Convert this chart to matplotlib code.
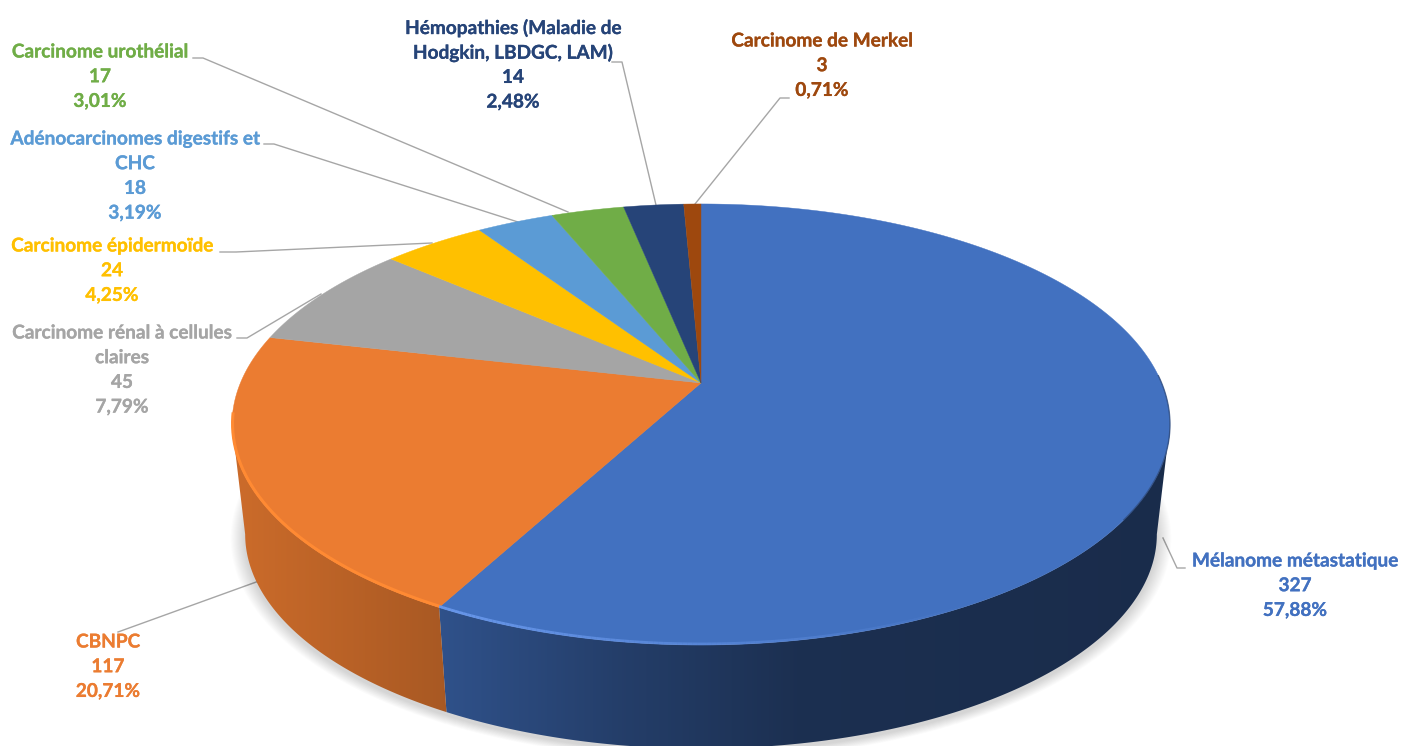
import numpy as np
import matplotlib
matplotlib.use("Agg")
import matplotlib.pyplot as plt
import matplotlib.patheffects as pe
from matplotlib.collections import LineCollection
from matplotlib.patches import Polygon

plt.rcParams['font.family'] = ['Lato', 'DejaVu Sans']

# Data
names = ["Mélanome métastatique", "CBNPC", "Carcinome rénal à cellules\nclaires",
         "Carcinome épidermoïde", "Adénocarcinomes digestifs et\nCHC",
         "Carcinome urothélial", "Hémopathies (Maladie de\nHodgkin, LBDGC, LAM)",
         "Carcinome de Merkel"]
counts = [327, 117, 45, 24, 18, 17, 14, 3]
percents = [57.88, 20.71, 7.79, 4.25, 3.19, 3.01, 2.48, 0.71]
colors = ["#4271C0", "#EB7C31", "#A5A5A5", "#FFC000", "#5B9BD5", "#70AD47", "#264478", "#9E480E"]
text_colors = colors[:6] + ["#264478", "#9E480E"]

# Label centre x, first line y
label_pos = [(1295, 561), (108, 642), (122, 333), (112, 246), (135, 139), (100, 52), (513, 28), (822, 41)]
# Leader lines
leaders = [
    [(1163, 538), (1177, 568), (1185, 568)],
    [(118, 632), (259, 581)],
    [(237, 338), (247, 338), (321, 294)],
    [(220, 252), (236, 252), (432, 243)],
    [(264, 144), (274, 144), (518, 222)],
    [(193, 58), (203, 58), (568, 212)],
    [(612, 62), (622, 62), (656, 205)],
    [(789, 98), (780, 98), (695, 204)],
]

# Perspective of the disc
CX, CY = 701, 383
A, B, K = 460.6, 212.7, 0.188
DEPTH, SHRINK = 111, 0.972
W, H = 1403, 746


def project(theta, scale=1.0, dy=0.0):
    """theta = clockwise angle from the top, gives pixel position on the rim"""
    x, y = np.sin(theta), np.cos(theta)
    w = 1 + K * y
    return CX + scale * A * x / w, CY + dy - scale * B * y / w


def side_shade(x):
    return np.interp(x, [245, 441, 620, 800, 1170], [0.86, 0.72, 0.55, 0.42, 0.39])


fig = plt.figure(figsize=(14.03, 7.46), dpi=100)
ax = fig.add_axes([0, 0, 1, 1])

for pts in leaders:
    xs, ys = zip(*pts)
    ax.plot(xs, ys, color="#A6A6A6", lw=1.0, zorder=1)

# soft shadow under the disc
t = np.linspace(0, 2 * np.pi, 400)
for i in range(14):
    px, py = project(t, SHRINK + 0.0022 * (14 - i), DEPTH + 3)
    ax.add_patch(Polygon(np.c_[px, py], fc="black", ec="none", alpha=0.012, zorder=2))

edges = np.radians(np.cumsum([0] + percents) / sum(percents) * 360)

# only the rim between the two x extremes shows a wall
vis_start = np.arccos(-K)
vis_end = 2 * np.pi - vis_start

# side wall, gradient image clipped to each slice's wall
grad_x = np.arange(W) + 0.5
for start, end, col in zip(edges[:-1], edges[1:], colors):
    a, b = max(start, vis_start), min(end, vis_end)
    if a >= b:
        continue
    th = np.linspace(a, b, 200)
    x1, y1 = project(th)
    x2, y2 = project(th[::-1], SHRINK, DEPTH)
    wall = Polygon(np.c_[np.r_[x1, x2], np.r_[y1, y2]], closed=True, transform=ax.transData)
    rgb = np.array(matplotlib.colors.to_rgb(col))[None, None, :] * side_shade(grad_x)[None, :, None]
    im = ax.imshow(rgb, extent=(0, W, H, 0), aspect="auto", zorder=3, interpolation="bilinear")
    im.set_clip_path(wall)

ax.set_xlim(0, W)
ax.set_ylim(H, 0)
ax.axis("off")

# top of the disc
for start, end, col in zip(edges[:-1], edges[1:], colors):
    th = np.linspace(start, end, max(int((end - start) * 120), 3))
    x1, y1 = project(th)
    verts = np.r_[[(CX, CY)], np.c_[x1, y1]]
    ax.add_patch(Polygon(verts, fc=col, ec=col, lw=0.3, zorder=4))

# rim highlights
px, py = project(np.linspace(edges[1], np.radians(262), 200))
ax.plot(px + 0.5, py - 1, color="#FF8A33", lw=2.2, zorder=5, solid_capstyle="butt")

th = np.linspace(edges[1], np.radians(150), 120)
px, py = project(th)
segs = [[(px[i], py[i] - 1), (px[i + 1], py[i + 1] - 1)] for i in range(len(th) - 1)]
ax.add_collection(LineCollection(segs, colors="#6C9BEF", linewidths=2.0,
                                 alpha=list(np.linspace(0.9, 0.0, len(segs))), zorder=5))

th = np.linspace(np.radians(88), np.radians(125), 120)
px, py = project(th)
ax.plot(px, py, color="#2A4575", lw=1.0, alpha=0.7, zorder=5)

# data labels
for name, n, pct, col, (lx, ly) in zip(names, counts, percents, text_colors, label_pos):
    lines = name.split("\n") + [str(n), f"{pct:.2f}%".replace(".", ",")]
    for j, line in enumerate(lines):
        ax.text(lx, ly + j * 24.7, line, color=col, fontsize=13.7, fontweight="bold",
                ha="center", va="center", zorder=6,
                path_effects=[pe.withStroke(linewidth=0.2, foreground=col)])

fig.savefig("out.png", dpi=100)
